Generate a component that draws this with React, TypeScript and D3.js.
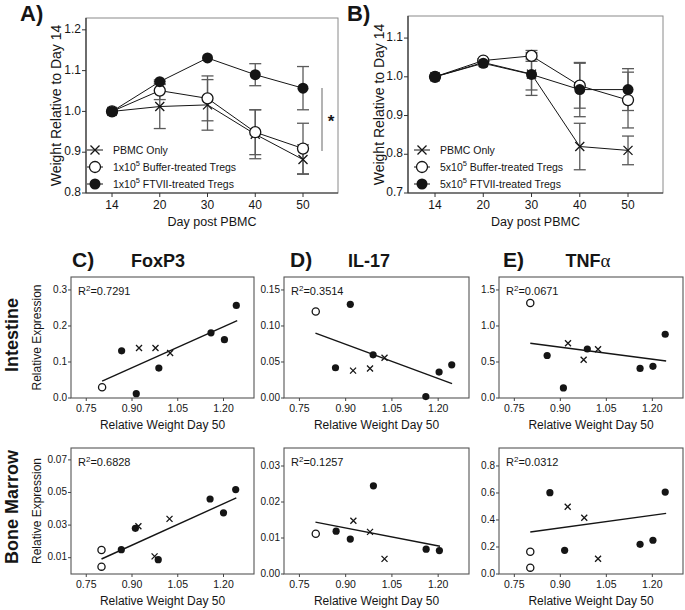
import React from 'react';
import * as d3 from 'd3';

const FONT = '"Liberation Sans", Arial, Helvetica, sans-serif';

// ---------- Panels A / B : weight over time ----------
const days = ['14', '20', '30', '40', '50'];

const aPbmc = [1.0, 1.012, 1.016, 0.944, 0.882];
const aPbmcErr = [0, 0.054, 0.062, 0.06, 0.036];
const aBuffer = [1.0, 1.051, 1.032, 0.949, 0.909];
const aBufferErr = [0, 0.022, 0.055, 0.055, 0.062];
const aFtvii = [1.0, 1.073, 1.131, 1.09, 1.057];
const aFtviiErr = [0, 0.004, 0, 0.027, 0.053];
const aTicks = [0.8, 0.9, 1.0, 1.1, 1.2];

const bPbmc = [1.0, 1.037, 1.007, 0.82, 0.81];
const bPbmcErr = [0, 0.004, 0.055, 0.06, 0.037];
const bBuffer = [1.0, 1.042, 1.054, 0.977, 0.94];
const bBufferErr = [0, 0.004, 0.014, 0.058, 0.072];
const bFtvii = [1.0, 1.035, 1.006, 0.967, 0.967];
const bFtviiErr = [0, 0.004, 0.04, 0.07, 0.054];
const bTicks = [0.7, 0.8, 0.9, 1.0, 1.1];

const legendA = ['PBMC Only', '1x10|5| Buffer-treated Tregs', '1x10|5| FTVII-treated Tregs'];
const legendB = ['PBMC Only', '5x10|5| Buffer-treated Tregs', '5x10|5| FTVII-treated Tregs'];

// ---------- Panels C / D / E : expression vs weight (p = PBMC only, b = buffer Tregs, f = FTVII Tregs) ----------
const weightTicks = [0.75, 0.9, 1.05, 1.2];

const foxp3Intestine: [number, number, string][] = [
  [0.802, 0.03, 'b'], [0.866, 0.131, 'f'], [0.923, 0.139, 'p'], [0.977, 0.139, 'p'], [1.025, 0.125, 'p'],
  [0.914, 0.012, 'f'], [0.988, 0.083, 'f'], [1.159, 0.181, 'f'], [1.203, 0.162, 'f'], [1.242, 0.257, 'f'],
];
const foxp3IntestineFit = [0.802, 0.047, 1.245, 0.215];

const il17Intestine: [number, number, string][] = [
  [0.803, 0.12, 'b'], [0.915, 0.13, 'f'], [0.867, 0.042, 'f'], [0.924, 0.038, 'p'], [0.979, 0.041, 'p'],
  [0.989, 0.06, 'f'], [1.026, 0.056, 'p'], [1.16, 0.002, 'f'], [1.203, 0.036, 'f'], [1.244, 0.046, 'f'],
];
const il17IntestineFit = [0.802, 0.09, 1.245, 0.02];

const tnfIntestine: [number, number, string][] = [
  [0.802, 1.32, 'b'], [0.925, 0.76, 'p'], [0.988, 0.68, 'f'], [1.023, 0.676, 'p'], [0.857, 0.59, 'f'],
  [0.976, 0.53, 'p'], [0.91, 0.14, 'f'], [1.16, 0.41, 'f'], [1.202, 0.44, 'f'], [1.242, 0.885, 'f'],
];
const tnfIntestineFit = [0.802, 0.76, 1.245, 0.514];

const foxp3Marrow: [number, number, string][] = [
  [0.8, 0.0147, 'b'], [0.8, 0.0045, 'b'], [0.865, 0.0149, 'f'], [0.911, 0.028, 'f'], [0.921, 0.0293, 'p'],
  [0.974, 0.0108, 'p'], [0.986, 0.0088, 'f'], [1.023, 0.0338, 'p'], [1.156, 0.046, 'f'], [1.2, 0.0375, 'f'],
  [1.24, 0.0518, 'f'],
];
const foxp3MarrowFit = [0.8, 0.0092, 1.242, 0.0467];

const il17Marrow: [number, number, string][] = [
  [0.803, 0.0112, 'b'], [0.869, 0.0119, 'f'], [0.915, 0.0097, 'f'], [0.925, 0.0148, 'p'], [0.979, 0.0117, 'p'],
  [0.99, 0.0245, 'f'], [1.026, 0.0042, 'p'], [1.161, 0.0069, 'f'], [1.204, 0.0065, 'f'],
];
const il17MarrowFit = [0.802, 0.0144, 1.206, 0.0077];

const tnfMarrow: [number, number, string][] = [
  [0.802, 0.165, 'b'], [0.802, 0.047, 'b'], [0.866, 0.602, 'f'], [0.924, 0.498, 'p'], [0.978, 0.417, 'p'],
  [0.914, 0.175, 'f'], [1.023, 0.113, 'p'], [1.16, 0.22, 'f'], [1.202, 0.25, 'f'], [1.242, 0.607, 'f'],
];
const tnfMarrowFit = [0.802, 0.311, 1.245, 0.449];

const INK = '#151515';
const ERR = '#5a5a5a';

function Marker({ x, y, g, r }: { x: number; y: number; g: string; r: number }) {
  if (g === 'p')
    return (
      <path d={`M${x - r},${y - r}L${x + r},${y + r}M${x - r},${y + r}L${x + r},${y - r}`} stroke={INK} strokeWidth={1.3} fill="none" />
    );
  if (g === 'b') return <circle cx={x} cy={y} r={r} fill="#fff" stroke={INK} strokeWidth={1.3} />;
  return <circle cx={x} cy={y} r={r} fill={INK} />;
}

function LegendText({ x, y, label }: { x: number; y: number; label: string }) {
  const parts = label.split('|');
  return (
    <text x={x} y={y} fontSize={10.5} fontFamily={FONT} fill={INK} dominantBaseline="middle">
      {parts.length === 1 ? (
        label
      ) : (
        <>
          {parts[0]}
          <tspan dy={-4} fontSize={7.5}>{parts[1]}</tspan>
          <tspan dy={4}>{parts[2]}</tspan>
        </>
      )}
    </text>
  );
}

function TimePanel(props: {
  x0: number; x1: number; y0: number; y1: number; xd: [number, number]; yd: [number, number];
  ticks: number[]; series: number[][]; errs: number[][]; legend: string[]; legX: number; titleX: number;
}) {
  const { x0, x1, y0, y1, xd, yd, ticks, series, errs, legend, legX, titleX } = props;
  const xs = d3.scaleLinear().domain(xd).range([x0, x1]);
  const ys = d3.scaleLinear().domain(yd).range([y1, y0]);
  const line = d3.line<number>().x((_, i) => xs(i)).y((d) => ys(d));
  const groups = ['p', 'b', 'f'];
  const legY = [150, 167, 184];
  return (
    <g>
      <rect x={x0} y={y0} width={x1 - x0} height={y1 - y0} fill="none" stroke="#8a8a8a" strokeWidth={1} />
      <line x1={x0} x2={x0} y1={y0} y2={y1} stroke="#333" strokeWidth={1.2} />
      <line x1={x0} x2={x1} y1={y1} y2={y1} stroke="#333" strokeWidth={1.2} />
      {ticks.map((t) => (
        <g key={t}>
          <line x1={x0 - 4} x2={x0} y1={ys(t)} y2={ys(t)} stroke="#333" />
          <text x={x0 - 5} y={ys(t)} textAnchor="end" dominantBaseline="middle" fontSize={12} fontFamily={FONT} fill={INK}>
            {d3.format('.1f')(t)}
          </text>
        </g>
      ))}
      {days.map((d, i) => (
        <g key={d}>
          <line x1={xs(i)} x2={xs(i)} y1={y1} y2={y1 + 4} stroke="#333" />
          <text x={xs(i)} y={y1 + 16} textAnchor="middle" fontSize={12} fontFamily={FONT} fill={INK}>{d}</text>
        </g>
      ))}
      <text x={(x0 + x1) / 2} y={226} textAnchor="middle" fontSize={12.5} fontFamily={FONT} fill={INK}>Day post PBMC</text>
      <text transform={`translate(${titleX},${(y0 + y1) / 2}) rotate(-90)`} textAnchor="middle" fontSize={14} fontFamily={FONT} fill={INK}>
        Weight Relative to Day 14
      </text>
      {series.map((s, k) => (
        <path key={'l' + k} d={line(s) || ''} fill="none" stroke={INK} strokeWidth={1} />
      ))}
      {series.map((s, k) =>
        s.map((v, i) =>
          errs[k][i] > 0 ? (
            <g key={'e' + k + i} stroke={ERR} strokeWidth={1.3}>
              <line x1={xs(i)} x2={xs(i)} y1={ys(v - errs[k][i])} y2={ys(v + errs[k][i])} />
              <line x1={xs(i) - 6} x2={xs(i) + 6} y1={ys(v - errs[k][i])} y2={ys(v - errs[k][i])} />
              <line x1={xs(i) - 6} x2={xs(i) + 6} y1={ys(v + errs[k][i])} y2={ys(v + errs[k][i])} />
            </g>
          ) : null
        )
      )}
      {series.map((s, k) => s.map((v, i) => <Marker key={'m' + k + i} x={xs(i)} y={ys(v)} g={groups[k]} r={groups[k] === 'p' ? 4.5 : 5.5} />))}
      {legend.map((l, k) => (
        <g key={'g' + k}>
          <line x1={legX - 8} x2={legX + 8} y1={legY[k]} y2={legY[k]} stroke={INK} />
          <Marker x={legX} y={legY[k]} g={groups[k]} r={groups[k] === 'p' ? 4.5 : 5.5} />
          <LegendText x={legX + 18} y={legY[k] + 1} label={l} />
        </g>
      ))}
    </g>
  );
}

function ScatterPanel(props: {
  x0: number; x1: number; y0: number; y1: number; yd: [number, number]; ticks: number[]; fmt: string;
  data: [number, number, string][]; fit: number[]; r2: string;
}) {
  const { x0, x1, y0, y1, yd, ticks, fmt, data, fit, r2 } = props;
  const xs = d3.scaleLinear().domain([0.7, 1.3]).range([x0, x1]);
  const ys = d3.scaleLinear().domain(yd).range([y1, y0]);
  return (
    <g>
      <rect x={x0} y={y0} width={x1 - x0} height={y1 - y0} fill="none" stroke="#555" strokeWidth={1.1} />
      {ticks.map((t) => (
        <g key={t}>
          <line x1={x0 - 3} x2={x0} y1={ys(t)} y2={ys(t)} stroke="#444" />
          <text x={x0 - 4} y={ys(t)} textAnchor="end" dominantBaseline="middle" fontSize={10} fontFamily={FONT} fill={INK}>
            {d3.format(fmt)(t)}
          </text>
        </g>
      ))}
      {weightTicks.map((t) => (
        <g key={t}>
          <line x1={xs(t)} x2={xs(t)} y1={y1} y2={y1 + 3} stroke="#444" />
          <text x={xs(t)} y={y1 + 14} textAnchor="middle" fontSize={10.5} fontFamily={FONT} fill={INK}>{d3.format('.2f')(t)}</text>
        </g>
      ))}
      <text x={(x0 + x1) / 2} y={y1 + 31} textAnchor="middle" fontSize={12} fontFamily={FONT} fill={INK}>Relative Weight Day 50</text>
      <text x={x0 + 7} y={y0 + 18} fontSize={11} fontFamily={FONT} fill={INK}>
        R<tspan dy={-4} fontSize={8}>2</tspan>
        <tspan dy={4}>={r2}</tspan>
      </text>
      <line x1={xs(fit[0])} y1={ys(fit[1])} x2={xs(fit[2])} y2={ys(fit[3])} stroke={INK} strokeWidth={1.4} />
      {data.map((d, i) => (
        <Marker key={i} x={xs(d[0])} y={ys(d[1])} g={d[2]} r={d[2] === 'p' ? 3 : 3.6} />
      ))}
    </g>
  );
}

export default function App() {
  const cols = [
    { x0: 71, x1: 254 },
    { x0: 284, x1: 469 },
    { x0: 499, x1: 683 },
  ];
  const rowInt = { y0: 277, y1: 398 };
  const rowBm = { y0: 448, y1: 574 };
  return (
    <svg width={685} height={610} style={{ position: 'absolute', left: 0, top: 0, background: '#fff' }} fontFamily={FONT}>
      <rect width={685} height={610} fill="#fff" />
      {/* Panel labels */}
      <text x={20} y={21} fontSize={22} fontWeight="bold" fill={INK}>A)</text>
      <text x={347} y={21} fontSize={22} fontWeight="bold" fill={INK}>B)</text>

      <TimePanel x0={86} x1={338} y0={18} y1={193} xd={[-0.545, 4.733]} yd={[0.8, 1.229]} ticks={aTicks}
        series={[aPbmc, aBuffer, aFtvii]} errs={[aPbmcErr, aBufferErr, aFtviiErr]} legend={legendA} legX={95} titleX={61} />
      <line x1={322} x2={322} y1={88} y2={151} stroke="#8a8a8a" strokeWidth={1.3} />
      <text x={331} y={127} textAnchor="middle" fontSize={17} fontWeight="bold" fill={INK}>*</text>

      <TimePanel x0={408} x1={663} y0={16} y1={193} xd={[-0.56, 4.725]} yd={[0.7, 1.157]} ticks={bTicks}
        series={[bPbmc, bBuffer, bFtvii]} errs={[bPbmcErr, bBufferErr, bFtviiErr]} legend={legendB} legX={422} titleX={384} />

      {/* Column headings */}
      <text x={72} y={267} fontSize={21} fontWeight="bold" fill={INK}>C)</text>
      <text x={158} y={267} textAnchor="middle" fontSize={18} fontWeight="bold" fill={INK}>FoxP3</text>
      <text x={290} y={267} fontSize={21} fontWeight="bold" fill={INK}>D)</text>
      <text x={369} y={267} textAnchor="middle" fontSize={18} fontWeight="bold" fill={INK}>IL-17</text>
      <text x={503} y={267} fontSize={21} fontWeight="bold" fill={INK}>E)</text>
      <text x={588} y={267} textAnchor="middle" fontSize={18} fontWeight="bold" fill={INK}>
        TNF<tspan fontWeight="normal" fontFamily='"Liberation Serif", "DejaVu Serif", serif' fontSize={19}>α</tspan>
      </text>

      {/* Row labels */}
      <text transform={`translate(18,335) rotate(-90)`} textAnchor="middle" fontSize={18} fontWeight="bold" fill={INK}>Intestine</text>
      <text transform={`translate(18,507) rotate(-90)`} textAnchor="middle" fontSize={18} fontWeight="bold" fill={INK}>Bone Marrow</text>
      <text transform={`translate(41,${(rowInt.y0 + rowInt.y1) / 2}) rotate(-90)`} textAnchor="middle" fontSize={12} fill={INK}>Relative Expression</text>
      <text transform={`translate(41,${(rowBm.y0 + rowBm.y1) / 2}) rotate(-90)`} textAnchor="middle" fontSize={12} fill={INK}>Relative Expression</text>

      <ScatterPanel {...cols[0]} {...rowInt} yd={[0, 0.336]} ticks={[0, 0.1, 0.2, 0.3]} fmt=".1f" data={foxp3Intestine} fit={foxp3IntestineFit} r2="0.7291" />
      <ScatterPanel {...cols[1]} {...rowInt} yd={[0, 0.168]} ticks={[0, 0.05, 0.1, 0.15]} fmt=".2f" data={il17Intestine} fit={il17IntestineFit} r2="0.3514" />
      <ScatterPanel {...cols[2]} {...rowInt} yd={[0, 1.68]} ticks={[0, 0.5, 1.0, 1.5]} fmt=".1f" data={tnfIntestine} fit={tnfIntestineFit} r2="0.0671" />
      <ScatterPanel {...cols[0]} {...rowBm} yd={[0, 0.0773]} ticks={[0.01, 0.03, 0.05, 0.07]} fmt=".2f" data={foxp3Marrow} fit={foxp3MarrowFit} r2="0.6828" />
      <ScatterPanel {...cols[1]} {...rowBm} yd={[0, 0.035]} ticks={[0, 0.01, 0.02, 0.03]} fmt=".2f" data={il17Marrow} fit={il17MarrowFit} r2="0.1257" />
      <ScatterPanel {...cols[2]} {...rowBm} yd={[0, 0.933]} ticks={[0, 0.2, 0.4, 0.6, 0.8]} fmt=".1f" data={tnfMarrow} fit={tnfMarrowFit} r2="0.0312" />
    </svg>
  );
}
